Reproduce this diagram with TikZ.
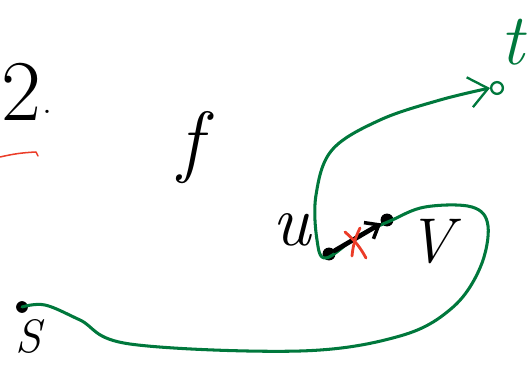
\documentclass[tikz,border=0pt]{standalone}
\usepackage{amsmath,amssymb}
\usepackage{xcolor}
\usetikzlibrary{arrows.meta}
\definecolor{pathgreen}{RGB}{0,120,60}
\definecolor{markred}{RGB}{235,60,40}
\begin{document}
\begin{tikzpicture}[x=0.03cm, y=-0.03cm,
    hand/.style={line width=2.6pt, line cap=round, line join=round},
    dot/.style={circle, fill=black, inner sep=0pt, minimum size=11pt},
    big/.style={font=\fontsize{#1}{#1}\selectfont, inner sep=0pt}]
    \useasboundingbox (0,0) rectangle (532,365);
    % Numero del ejercicio
    \node[big=74pt, anchor=west] (num) at (1,92) {2};
    \node[big=34pt] (numdot) at (47,112) {.};
    % Trazo rojo a la izquierda
    \draw[hand, markred, line width=1.3pt] (0,157) to[bend left=5] (36,152) -- (38,156);
    % Etiqueta del flujo
    \node[big=68pt] (flow) at (190,148) {\itshape f};
    % Vertices u, v, s, t
    \node[dot] (u) at (329,254) {};
    \node[dot] (v) at (387,220) {};
    \node[dot, minimum size=10pt] (s) at (22,307) {};
    \node[circle, draw=pathgreen, line width=2pt, inner sep=0pt, minimum size=10pt] (t) at (497,88) {};
    \node[big=62pt] (ulabel) at (292,230) {\itshape u};
    \node[big=54pt] (vlabel) at (430,242) {\itshape V};
    \node[big=40pt] (slabel) at (28,336) {\itshape S};
    \node[big=62pt, text=pathgreen] (tlabel) at (512,42) {\itshape t};
    % Camino de s a t
    \draw[hand, pathgreen, -{Straight Barb[length=16pt, width=26pt, line width=2pt]}]
    plot[smooth, tension=0.6] coordinates {(s) (45,305) (80,320) (130,344) (300,351)
        (400,336) (452,308) (480,268) (488,226) (472,207) (425,207) (390,221)
        (358,236) (326,258) (317,240) (316,195) (332,150) (380,120) (440,100) (t.west)};
    % Arista de u a v
    \draw[hand, line width=4pt, -{Straight Barb[length=10pt, width=16pt, line width=3pt]}] (u) -- (v);
    % Marca roja sobre la arista
    \draw[hand, markred, line width=2.4pt] (345,232) to[bend left=10] (366,258);
    \draw[hand, markred, line width=2.4pt] (360,228) to[bend right=10] (352,256);
\end{tikzpicture}
\end{document}
